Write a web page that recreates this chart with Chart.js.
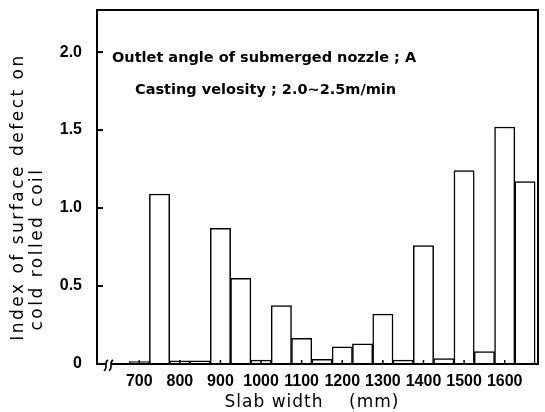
<!DOCTYPE html>
<html>
<head>
<meta charset="utf-8">
<script src="https://cdn.jsdelivr.net/npm/chart.js@4.4.0/dist/chart.umd.min.js"></script>
<style>
  html, body { margin: 0; padding: 0; background: #fff; }
  #wrap { width: 545px; height: 412px; }
</style>
</head>
<body>
<div id="wrap"><canvas id="myChart" width="545" height="412"></canvas></div>
<script>
// Slab width classes (mm), 50 mm wide
const slabWidths = [700, 750, 800, 850, 900, 950, 1000, 1050, 1100, 1150, 1200, 1250, 1300, 1350, 1400, 1450, 1500, 1550, 1600, 1650];
// Index of surface defect for each class
const defectIndex = [0.015, 1.09, 0.02, 0.02, 0.87, 0.55, 0.025, 0.375, 0.165, 0.03, 0.11, 0.13, 0.32, 0.025, 0.76, 0.035, 1.24, 0.08, 1.52, 1.17];

// Axis ticks
const xTickValues = [700, 800, 900, 1000, 1100, 1200, 1300, 1400, 1500, 1600];
const xTickLabels = ['700', '800', '900', '1000', '1100', '1200', '1300', '1400', '1500', '1600'];
const yTickValues = [0, 0.5, 1.0, 1.5, 2.0];
const yTickLabels = ['0', '0.5', '1.0', '1.5', '2.0'];

// Texts
const noteLines = ['Outlet angle of submerged nozzle ; A', 'Casting velosity ; 2.0~2.5m/min'];
const yTitleLines = ['Index of surface defect on', 'cold rolled coil'];
const xTitle = 'Slab width    (mm)';

const tickFont = { family: 'Liberation Sans', size: 16, weight: 'bold' };

// Rahmen, innere Striche, Achsbruch und Beschriftungen
const framePlugin = {
    id: 'frame',
    afterDraw(chart) {
        const c = chart.ctx;
        const a = chart.chartArea;
        const xs = chart.scales.x;
        const ys = chart.scales.y;

        c.save();
        c.strokeStyle = '#000';
        c.lineWidth = 2;
        c.strokeRect(a.left, a.top, a.right - a.left, a.bottom - a.top);

        // inner ticks on y axis
        yTickValues.forEach(v => {
            if (v === 0) return;
            const y = ys.getPixelForValue(v);
            c.beginPath();
            c.moveTo(a.left, y);
            c.lineTo(a.left + 6, y);
            c.stroke();
        });

        // small ticks on x axis
        c.lineWidth = 1.5;
        xTickValues.forEach(v => {
            const x = xs.getPixelForValue(v);
            c.beginPath();
            c.moveTo(x, a.bottom);
            c.lineTo(x, a.bottom - 4);
            c.stroke();
        });

        // axis break
        c.fillStyle = '#fff';
        c.fillRect(a.left + 9, a.bottom - 2, 5, 4);
        c.lineWidth = 1.5;
        [a.left + 9, a.left + 14].forEach(x => {
            c.beginPath();
            c.moveTo(x + 2, a.bottom - 4);
            c.bezierCurveTo(x - 3, a.bottom - 1, x + 3, a.bottom + 3, x - 2, a.bottom + 7);
            c.stroke();
        });

        // notes in the plot
        c.fillStyle = '#000';
        c.font = 'bold 14.5px "DejaVu Sans"';
        c.textBaseline = 'middle';
        c.textAlign = 'left';
        c.fillText(noteLines[0], 112, 58);
        c.fillText(noteLines[1], 135, 90);

        // axis titles
        c.font = '17px "DejaVu Sans"';
        c.textAlign = 'center';
        c.letterSpacing = '1px';
        c.fillText(xTitle, 312, 403);

        c.letterSpacing = '2.5px';
        c.translate(19, 197);
        c.rotate(-Math.PI / 2);
        c.fillText(yTitleLines[0], 0, 0);
        c.rotate(Math.PI / 2);
        c.translate(19, 52);
        c.rotate(-Math.PI / 2);
        c.fillText(yTitleLines[1], 0, 0);
        c.restore();
    }
};

const ctx = document.getElementById('myChart').getContext('2d');

new Chart(ctx, {
    type: 'bar',
    data: {
        datasets: [
            {
                data: slabWidths.map((w, i) => ({ x: w, y: defectIndex[i] })),
                backgroundColor: '#fff',
                borderColor: '#000',
                borderWidth: 1.5,
                borderSkipped: 'bottom',
                categoryPercentage: 1,
                barPercentage: 1
            }
        ]
    },
    options: {
        responsive: false,
        animation: false,
        layout: { padding: { top: 10, right: 7, left: 0, bottom: 0 } },
        plugins: {
            legend: { display: false },
            tooltip: { enabled: false }
        },
        scales: {
            x: {
                type: 'linear',
                offset: false,
                min: 596,
                max: 1682,
                grid: { display: false, drawTicks: false },
                border: { display: false },
                afterBuildTicks: s => { s.ticks = xTickValues.map(v => ({ value: v })); },
                afterFit: s => { s.height = 48; s.paddingLeft = 0; s.paddingRight = 0; },
                ticks: {
                    autoSkip: false,
                    maxRotation: 0,
                    color: '#000',
                    font: tickFont,
                    padding: 8,
                    callback: (v, i) => xTickLabels[i]
                }
            },
            y: {
                min: 0,
                max: 2.27,
                grid: { display: false, drawTicks: false },
                border: { display: false },
                afterBuildTicks: s => { s.ticks = yTickValues.map(v => ({ value: v })); },
                afterFit: s => { s.width = 97; s.paddingTop = 0; s.paddingBottom = 0; },
                ticks: {
                    color: '#000',
                    font: tickFont,
                    padding: 15,
                    callback: (v, i) => yTickLabels[i]
                }
            }
        }
    },
    plugins: [framePlugin]
});
</script>
</body>
</html>
